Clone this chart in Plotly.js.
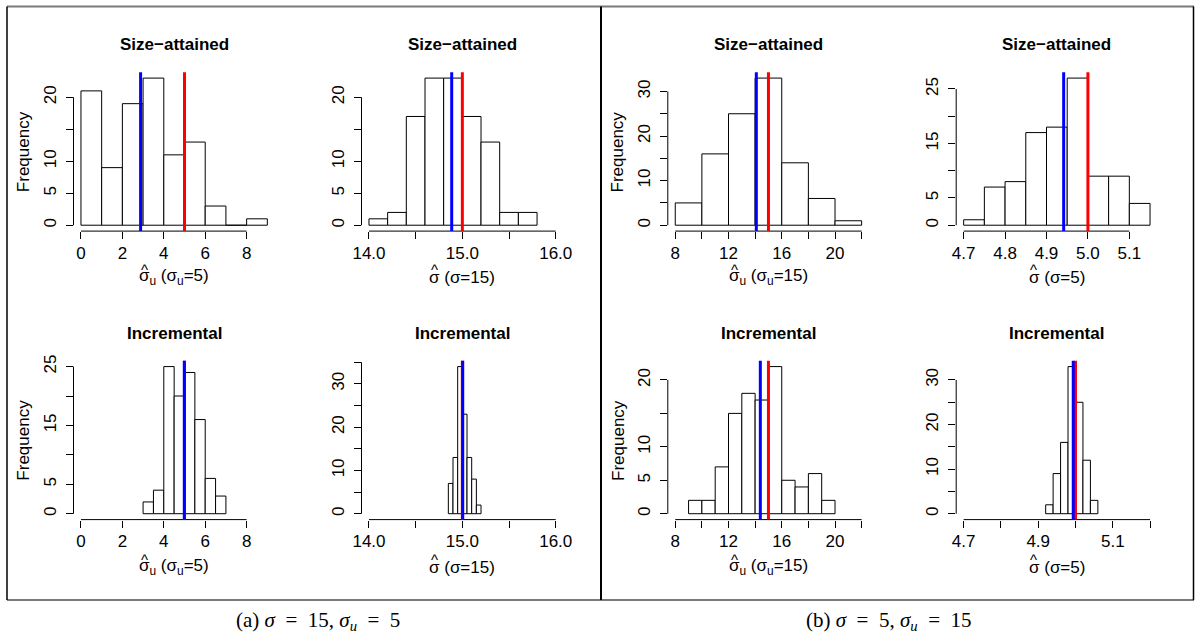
<!DOCTYPE html>
<html><head><meta charset="utf-8">
<script src="https://cdn.plot.ly/plotly-3.0.1.min.js"></script>
<style>html,body{margin:0;padding:0;background:#fff}</style>
</head><body><div id="chart" style="width:1195px;height:643px"></div>
<script>
// ---- Data (histogram bin edges and counts) ----
// (a) sigma = 15, sigma_u = 5
const aSizeSuBreaks = [0, 1, 2, 3, 4, 5, 6, 7, 8, 9];
const aSizeSuCounts = [21, 9, 19, 23, 11, 13, 3, 0, 1];
const aSizeSBreaks  = [14.0, 14.2, 14.4, 14.6, 14.8, 15.0, 15.2, 15.4, 15.6, 15.8];
const aSizeSCounts  = [1, 2, 17, 23, 23, 17, 13, 2, 2];
const aIncrSuBreaks = [3, 3.5, 4, 4.5, 5, 5.5, 6, 6.5, 7];
const aIncrSuCounts = [2, 4, 25, 20, 24, 16, 6, 3];
const aIncrSBreaks  = [14.85, 14.90, 14.95, 15.00, 15.05, 15.10, 15.15, 15.20];
const aIncrSCounts  = [7, 13, 34, 23, 13, 8, 2];
// (b) sigma = 5, sigma_u = 15
const bSizeSuBreaks = [8, 10, 12, 14, 16, 18, 20, 22];
const bSizeSuCounts = [5, 16, 25, 33, 14, 6, 1];
const bSizeSBreaks  = [4.70, 4.75, 4.80, 4.85, 4.90, 4.95, 5.00, 5.05, 5.10, 5.15];
const bSizeSCounts  = [1, 7, 8, 17, 18, 27, 9, 9, 4];
const bIncrSuBreaks = [9, 10, 11, 12, 13, 14, 15, 16, 17, 18, 19, 20];
const bIncrSuCounts = [2, 2, 7, 15, 18, 17, 22, 5, 4, 6, 2];
const bIncrSBreaks  = [4.92, 4.94, 4.96, 4.98, 5.00, 5.02, 5.04, 5.06];
const bIncrSCounts  = [2, 9, 16, 33, 25, 12, 3];

// mean of estimates (blue) and true value (red), panel order below
const meanEstimates = [2.88, 14.886, 4.99, 15.004, 14.09, 4.9415, 14.39, 4.994];
const trueValues    = [5, 15, 5, 15, 15, 5, 15, 5];

// tick values / labels ('' = tick without label)
const xTicksSu5  = [0, 2, 4, 6, 8];          const xLabSu5  = ['0','2','4','6','8'];
const xTicksS15  = [14, 14.5, 15, 15.5, 16]; const xLabS15  = ['14.0','','15.0','','16.0'];
const xTicksSu15 = [8,10,12,14,16,18,20,22]; const xLabSu15 = ['8','','12','','16','','20',''];
const xTicksS5a  = [4.7,4.8,4.9,5.0,5.1];    const xLabS5a  = ['4.7','4.8','4.9','5.0','5.1'];
const xTicksS5b  = [4.7,4.8,4.9,5.0,5.1,5.2];const xLabS5b  = ['4.7','','4.9','','5.1',''];
const yTicks20 = [0,5,10,15,20];             const yLab20  = ['0','5','10','','20'];
const yTicks25 = [0,5,10,15,20,25];          const yLab25  = ['0','5','','15','','25'];
const yTicks30 = [0,5,10,15,20,25,30];       const yLab30  = ['0','','10','','20','','30'];
const yTicks35 = [0,5,10,15,20,25,30,35];    const yLab35  = ['0','','10','','20','','30',''];

const panelTitles = ['Size\u2212attained','Size\u2212attained','Incremental','Incremental',
                     'Size\u2212attained','Size\u2212attained','Incremental','Incremental'];
// x labels: a hat is drawn over the leading sigma
const xLabels = [
  'σ<sub>u</sub> (σ<sub>u</sub>=5)', 'σ (σ=15)',
  'σ<sub>u</sub> (σ<sub>u</sub>=5)', 'σ (σ=15)',
  'σ<sub>u</sub> (σ<sub>u</sub>=15)', 'σ (σ=5)',
  'σ<sub>u</sub> (σ<sub>u</sub>=15)', 'σ (σ=5)'];
const captions = ['(a) <i>σ</i>\u2002=\u200215, <i>σ<sub>u</sub></i>\u2002=\u20025',
                  '(b) <i>σ</i>\u2002=\u20025, <i>σ<sub>u</sub></i>\u2002=\u200215'];

// ---- Panels ----
const W = 1195, H = 643;
const colX = [[73.5,274.8],[361.5,563.2],[667.8,869.1],[956.2,1157.5]];
const rowY = [[72.2,231.1],[360.7,519.6]];
const panels = [
  {b:aSizeSuBreaks,c:aSizeSuCounts,col:0,row:0,xlim:[0,9],    ylim:[0,23],xt:xTicksSu5, xl:xLabSu5, yt:yTicks20,yl:yLab20,freq:true},
  {b:aSizeSBreaks, c:aSizeSCounts, col:1,row:0,xlim:[14,16],  ylim:[0,23],xt:xTicksS15, xl:xLabS15, yt:yTicks20,yl:yLab20,freq:false},
  {b:aIncrSuBreaks,c:aIncrSuCounts,col:0,row:1,xlim:[0,9],    ylim:[0,25],xt:xTicksSu5, xl:xLabSu5, yt:yTicks25,yl:yLab25,freq:true},
  {b:aIncrSBreaks, c:aIncrSCounts, col:1,row:1,xlim:[14,16],  ylim:[0,34],xt:xTicksS15, xl:xLabS15, yt:yTicks35,yl:yLab35,freq:false},
  {b:bSizeSuBreaks,c:bSizeSuCounts,col:2,row:0,xlim:[8,22],   ylim:[0,33],xt:xTicksSu15,xl:xLabSu15,yt:yTicks30,yl:yLab30,freq:true},
  {b:bSizeSBreaks, c:bSizeSCounts, col:3,row:0,xlim:[4.7,5.15],ylim:[0,27],xt:xTicksS5a,xl:xLabS5a, yt:yTicks25,yl:yLab25,freq:false},
  {b:bIncrSuBreaks,c:bIncrSuCounts,col:2,row:1,xlim:[8,22],   ylim:[0,22],xt:xTicksSu15,xl:xLabSu15,yt:yTicks20,yl:yLab20,freq:true},
  {b:bIncrSBreaks, c:bIncrSCounts, col:3,row:1,xlim:[4.7,5.2], ylim:[0,33],xt:xTicksS5b,xl:xLabS5b, yt:yTicks30,yl:yLab30,freq:false}
];

const FONT = 'Liberation Sans, Arial, Helvetica, sans-serif';
const FS = 17;
const ctx = document.createElement('canvas').getContext('2d');
function textW(s, size) { ctx.font = size + 'px "Liberation Sans", Arial, sans-serif'; return ctx.measureText(s).width; }
function labelWidth(html) {
  let w = 0; const re = /<sub>(.*?)<\/sub>/g; let last = 0, m;
  while ((m = re.exec(html)) !== null) { w += textW(html.slice(last, m.index), FS); w += textW(m[1], FS*0.7); last = re.lastIndex; }
  return w + textW(html.slice(last), FS);
}

const traces = [], shapes = [], annotations = [];
const layout = {
  width: W, height: H, margin: {l:0,r:0,t:0,b:0},
  paper_bgcolor: '#fff', plot_bgcolor: '#fff', showlegend: false,
  font: {family: FONT, size: FS, color: '#000'}
};
const ext = (lim) => { const d = (lim[1]-lim[0])*0.04; return [lim[0]-d, lim[1]+d]; };

function axisTicks(vals, labs) {
  const tv = [], tt = [], mv = [];
  vals.forEach((v, j) => { if (labs[j] !== '') { tv.push(v); tt.push(labs[j]); } else { mv.push(v); } });
  return {tv, tt, mv};
}

panels.forEach((p, i) => {
  const k = i + 1, xa = 'x' + (k===1?'':k), ya = 'y' + (k===1?'':k);
  const xKey = 'xaxis' + (k===1?'':k), yKey = 'yaxis' + (k===1?'':k);
  const cx = colX[p.col], ry = rowY[p.row];
  const centers = [], widths = [];
  for (let j = 0; j < p.c.length; j++) { centers.push((p.b[j]+p.b[j+1])/2); widths.push(p.b[j+1]-p.b[j]); }
  traces.push({type:'bar', x:centers, y:p.c, width:widths, xaxis:xa, yaxis:ya,
    marker:{color:'#fff', line:{color:'#000', width:1}}, hoverinfo:'skip'});
  const xtk = axisTicks(p.xt, p.xl), ytk = axisTicks(p.yt, p.yl);
  const common = {ticks:'outside', ticklen:7, tickwidth:1, tickcolor:'#000', showgrid:false, zeroline:false,
    showline:false, tickmode:'array', tickfont:{family:FONT, size:FS, color:'#000'}, fixedrange:true};
  const minor = (vals) => ({tickmode:'array', tickvals:vals, ticks:'outside', ticklen:7, tickwidth:1, tickcolor:'#000', showgrid:false});
  layout[xKey] = Object.assign({}, common, {domain:[cx[0]/W, cx[1]/W], range:ext(p.xlim), anchor:ya,
    tickvals:xtk.tv, ticktext:xtk.tt, minor:minor(xtk.mv), ticklabelstandoff:-1});
  layout[yKey] = Object.assign({}, common, {domain:[1-ry[1]/H, 1-ry[0]/H], range:ext(p.ylim), anchor:xa,
    tickvals:ytk.tv, ticktext:ytk.tt, minor:minor(ytk.mv), tickangle:-90, ticklabelstandoff:3});
  // R-style axis lines from first to last tick
  shapes.push({type:'line', xref:xa, yref:ya+' domain', x0:p.xt[0], x1:p.xt[p.xt.length-1], y0:0, y1:0, line:{color:'#000', width:1}});
  shapes.push({type:'line', xref:xa+' domain', yref:ya, x0:0, x1:0, y0:p.yt[0], y1:p.yt[p.yt.length-1], line:{color:'#000', width:1}});
  // reference lines: true value (red) then mean estimate (blue)
  shapes.push({type:'line', xref:xa, yref:ya+' domain', x0:trueValues[i], x1:trueValues[i], y0:0, y1:1, line:{color:'#ff0000', width:3}});
  shapes.push({type:'line', xref:xa, yref:ya+' domain', x0:meanEstimates[i], x1:meanEstimates[i], y0:0, y1:1, line:{color:'#0000ff', width:3}});
  const midPx = (cx[0]+cx[1])/2, midX = midPx/W;
  annotations.push({xref:'paper', yref:'paper', x:midX, y:1-(p.row===0?44.5:333)/H, text:'<b>'+panelTitles[i]+'</b>',
    showarrow:false, font:{family:FONT, size:FS, color:'#000'}, xanchor:'center', yanchor:'middle'});
  const labY = p.row===0 ? 277 : 567;
  annotations.push({xref:'paper', yref:'paper', x:midX, y:1-labY/H, text:xLabels[i],
    showarrow:false, font:{family:FONT, size:FS, color:'#000'}, xanchor:'center', yanchor:'middle'});
  // hat over the leading sigma
  const hatPx = midPx - labelWidth(xLabels[i])/2 + textW('σ', FS)/2;
  annotations.push({xref:'paper', yref:'paper', x:hatPx/W, y:1-(labY-8)/H, text:'^',
    showarrow:false, font:{family:FONT, size:15, color:'#000'}, xanchor:'center', yanchor:'middle'});
  if (p.freq) {
    annotations.push({xref:'paper', yref:'paper', x:(cx[0]-50)/W, y:1-(ry[0]+ry[1])/2/H, text:'Frequency', textangle:-90,
      showarrow:false, font:{family:FONT, size:FS, color:'#000'}, xanchor:'center', yanchor:'middle'});
  }
});

// captions
const capFont = {family:'Liberation Serif, DejaVu Serif, serif', size:21, color:'#000'};
annotations.push({xref:'paper', yref:'paper', x:318/W, y:1-621/H, text:captions[0], showarrow:false, font:capFont, xanchor:'center', yanchor:'middle'});
annotations.push({xref:'paper', yref:'paper', x:889/W, y:1-621/H, text:captions[1], showarrow:false, font:capFont, xanchor:'center', yanchor:'middle'});

// frame around the two sub-figures
shapes.push({type:'line', xref:'paper', yref:'paper', x0:7/W, x1:1194/W, y0:1-6.5/H, y1:1-6.5/H, line:{color:'#7a7a7a', width:2}});
shapes.push({type:'line', xref:'paper', yref:'paper', x0:7/W, x1:1194/W, y0:1-600/H, y1:1-600/H, line:{color:'#7a7a7a', width:2}});
shapes.push({type:'line', xref:'paper', yref:'paper', x0:7/W, x1:7/W, y0:1-6.5/H, y1:1-600/H, line:{color:'#000', width:1.5}});
shapes.push({type:'line', xref:'paper', yref:'paper', x0:601/W, x1:601/W, y0:1-6.5/H, y1:1-600/H, line:{color:'#000', width:2}});
shapes.push({type:'line', xref:'paper', yref:'paper', x0:1193.5/W, x1:1193.5/W, y0:1-6.5/H, y1:1-600/H, line:{color:'#000', width:1.5}});

layout.shapes = shapes;
layout.annotations = annotations;
layout.bargap = 0;
Plotly.newPlot('chart', traces, layout, {displayModeBar:false, staticPlot:true});
</script>
</body></html>
